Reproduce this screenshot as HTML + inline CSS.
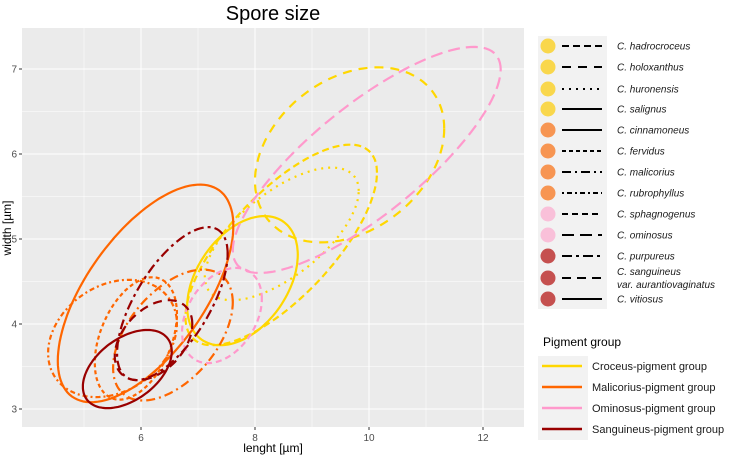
<!DOCTYPE html>
<html><head><meta charset="utf-8"><style>
body{margin:0;background:#fff;font-family:"Liberation Sans",sans-serif}
svg text{font-family:"Liberation Sans",sans-serif}
</style></head><body>
<svg id="c" width="744" height="459" xmlns="http://www.w3.org/2000/svg">
<rect x="22" y="28" width="502" height="399" fill="#EBEBEB"/>
<g id="grid"></g><g id="marks"></g><g id="axes"></g><g id="legend"></g>
<text x="273" y="20" font-size="20" text-anchor="middle" fill="#000">Spore size</text>
<text x="273" y="452" font-size="12" text-anchor="middle" fill="#000">lenght [µm]</text>
<text transform="translate(11,228) rotate(-90)" font-size="12" text-anchor="middle" fill="#000">width [µm]</text>
</svg>
<script>
const xTicks=[6,8,10,12];
const yTicks=[3,4,5,6,7];
const species=["C. hadrocroceus","C. holoxanthus","C. huronensis","C. salignus","C. cinnamoneus","C. fervidus","C. malicorius","C. rubrophyllus","C. sphagnogenus","C. ominosus","C. purpureus","C. sanguineus","C. vitiosus"];
const groups=["Croceus-pigment group","Malicorius-pigment group","Ominosus-pigment group","Sanguineus-pigment group"];
const speciesGroup=[0,0,0,0,1,1,1,1,2,2,3,3,3];
// ellipse per species: center x, center y, half-width, half-height, correlation
const cxs=[8.46,9.66,8.47,7.78,6.08,5.91,6.56,5.5,7.42,9.96,6.55,6.22,5.76];
const cys=[4.93,5.99,5.06,4.51,4.36,3.83,3.87,3.83,4.1,5.93,4.24,3.81,3.47];
const sxs=[1.68,1.66,1.35,0.97,1.54,0.72,1.05,1.13,0.7,2.35,0.97,0.68,0.78];
const sys=[1.18,1.03,0.78,0.76,1.28,0.72,0.77,0.69,0.56,1.33,0.9,0.47,0.46];
const rs=[0.72,0.3,0.65,0.4,0.62,0.4,0.5,0.25,0.35,0.8,0.65,0.4,0.45];
const colors=["#FFD700","#FF6600","#FF99CC","#990000"];
const dotColors=["#F9D74C","#F79552","#F9C0D9","#C5504F"];
const dashes=["7,4","9,7","2,5","","","4,3","9,4,2,4","2,3,5,3","6,4","12,6","10,4,3,4","9,6",""];
const NS="http://www.w3.org/2000/svg";
const X=v=>141+(v-6)*57, Y=v=>409-(v-3)*85;
function mk(t,a,p){const e=document.createElementNS(NS,t);for(const k in a)e.setAttribute(k,a[k]);p.appendChild(e);return e;}
const grid=document.getElementById('grid'),axes=document.getElementById('axes');
for(let v=5;v<=12;v+=1){const l=mk('line',{x1:X(v),x2:X(v),y1:28,y2:427,stroke:'#fff','stroke-width':v%2?0.5:1},grid);
}
for(let v=3;v<=7.5;v+=0.5){const l=mk('line',{y1:Y(v),y2:Y(v),x1:22,x2:524,stroke:'#fff','stroke-width':v%1?0.5:1},grid);
}
xTicks.forEach(v=>{const t=mk('text',{x:X(v),y:441,'font-size':10,'text-anchor':'middle',fill:'#4D4D4D'},axes);t.textContent=v;

mk('line',{x1:X(v),x2:X(v),y1:427,y2:430,stroke:'#333'},axes);});
yTicks.forEach(v=>{const t=mk('text',{x:17,y:Y(v)+3.5,'font-size':10,'text-anchor':'end',fill:'#4D4D4D'},axes);t.textContent=v;

mk('line',{x1:19,x2:22,y1:Y(v),y2:Y(v),stroke:'#333'},axes);});
const marks=document.getElementById('marks');
species.forEach((s,i)=>{const phi=Math.acos(rs[i]);let d='';
for(let k=0;k<=120;k++){const t=k/120*2*Math.PI;const px=X(cxs[i]+sxs[i]*Math.cos(t)),py=Y(cys[i]+sys[i]*Math.cos(t-phi));d+=(k?'L':'M')+px.toFixed(1)+','+py.toFixed(1);}
const p=mk('path',{d:d+'Z',fill:'none',stroke:colors[speciesGroup[i]],'stroke-width':2.2},marks);
if(dashes[i])p.setAttribute('stroke-dasharray',dashes[i]);

});
const lg=document.getElementById('legend');
let t=mk('text',{x:543,y:167,'font-size':12},lg);t.textContent='Species';

mk('rect',{x:538,y:36,width:69,height:273,fill:'#F2F2F2'},lg);
const rowY=[46,67,89,109,130,151,172,193,214,235,256,278,299];
species.forEach((s,i)=>{const y=rowY[i];const g=mk('g',{},lg);

mk('circle',{cx:548,cy:y,r:7.5,fill:dotColors[speciesGroup[i]]},g);
const l=mk('line',{x1:562,x2:602,y1:y,y2:y,stroke:'#000','stroke-width':2},g);
if(dashes[i])l.setAttribute('stroke-dasharray',dashes[i]);
const tx=mk('text',{x:617,y:y+3.5,'font-size':10,'font-style':'italic',fill:'#1a1a1a'},g);
if(i==11){tx.setAttribute('y',y-3);tx.textContent=s;const t2=mk('text',{x:617,y:y+10,'font-size':10,'font-style':'italic',fill:'#1a1a1a'},g);t2.textContent=' var. aurantiovaginatus';}
else tx.textContent=s;});
t=mk('text',{x:543,y:346,'font-size':12},lg);t.textContent='Pigment group';

mk('rect',{x:538,y:356,width:50,height:84,fill:'#F2F2F2'},lg);
groups.forEach((s,i)=>{const y=366+i*21;const g=mk('g',{},lg);

mk('line',{x1:542,x2:582,y1:y,y2:y,stroke:colors[i],'stroke-width':2.5},g);
const tx=mk('text',{x:592,y:y+4,'font-size':11,fill:'#1a1a1a'},g);tx.textContent=s;});
</script>
</body></html>
